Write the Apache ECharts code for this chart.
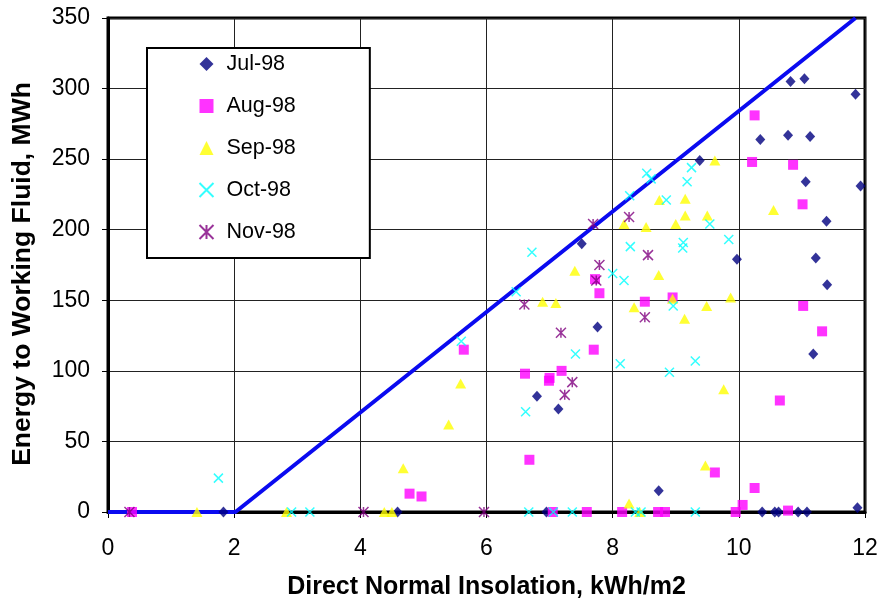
<!DOCTYPE html>
<html>
<head>
<meta charset="utf-8">
<script src="https://cdn.jsdelivr.net/npm/echarts@6/dist/echarts.min.js"></script>
<style>html,body{margin:0;padding:0;background:#fff;}#c{width:881px;height:605px;}</style>
</head>
<body>
<div id="c"></div>
<script>
var xTicks = [0, 2, 4, 6, 8, 10, 12];
var yTicks = [0, 50, 100, 150, 200, 250, 300, 350];
var seriesNames = ['Jul-98', 'Aug-98', 'Sep-98', 'Oct-98', 'Nov-98'];

var jul98 = [[1.83,0],[4.59,0],[6.80,82],[7.14,73],[7.51,190],[7.76,131],[6.95,0],[8.73,15],[9.38,249],[10.34,264],[10.78,267],[10.82,305],[11.04,307],[11.13,266],[11.85,296],[11.06,234],[11.93,231],[11.39,206],[9.97,179],[11.22,180],[11.40,161],[11.18,112],[10.37,0],[10.57,0],[10.63,0],[10.94,0],[11.08,0],[11.88,3]];
var aug98 = [[0.38,0],[4.78,13],[4.97,11],[5.64,115],[6.61,98],[6.68,37],[7.0,95],[6.99,93],[7.19,100],[7.05,0],[7.59,0],[7.70,115],[7.72,165],[7.79,155],[8.15,0],[8.51,149],[8.72,0],[8.83,0],[8.95,152],[9.62,28],[9.95,0],[10.06,5],[10.25,17],[10.21,248],[10.25,281],[10.65,79],[10.78,1],[10.86,246],[11.01,218],[11.02,146],[11.32,128]];
var sep98 = [[1.41,0],[2.83,0],[4.38,0],[4.50,0],[4.68,31],[5.40,62],[5.59,91],[6.89,149],[7.10,148],[7.40,171],[8.18,204],[8.26,6],[8.34,145],[8.43,0],[8.53,202],[8.73,168],[8.74,221],[8.95,151],[9.0,204],[9.14,137],[9.15,210],[9.15,222],[9.47,33],[9.49,146],[9.50,210],[9.62,249],[9.76,87],[9.87,152],[10.55,214]];
var oct98 = [[1.75,24],[2.91,0],[3.20,0],[5.60,121],[6.47,156],[6.62,71],[6.67,0],[6.72,184],[7.06,0],[7.36,0],[7.41,112],[8.0,169],[8.12,105],[8.18,164],[8.27,224],[8.28,188],[8.36,0],[8.45,0],[8.54,240],[8.61,236],[8.85,221],[8.90,99],[8.96,146],[9.11,187],[9.12,191],[9.18,234],[9.25,244],[9.31,107],[9.31,0],[9.54,204],[9.84,193]];
var nov98 = [[0.34,0],[4.05,0],[5.96,0],[6.60,147],[7.18,127],[7.24,83],[7.36,92],[7.69,204],[7.74,164],[7.79,175],[8.26,209],[8.51,138],[8.56,182]];
var limitLine = [[0,0],[2.02,0],[11.85,350]];

var FONT = '"Liberation Sans", Arial, sans-serif';
var chart = echarts.init(document.getElementById('c'), null, {renderer: 'canvas'});
var xPath = 'path://M0,0L10,10M10,0L0,10';
var starPath = 'path://M0,0L10,10M10,0L0,10M5,0L5,10';

chart.setOption({
  animation: false,
  backgroundColor: '#fff',
  grid: {left: 108, right: 16, top: 18, bottom: 92, show: true, borderColor: '#000', borderWidth: 3, backgroundColor: 'transparent'},
  legend: {
    data: seriesNames,
    orient: 'vertical',
    left: 147, top: 48,
    padding: [5, 74, 15, 50],
    itemGap: 20,
    itemWidth: 14, itemHeight: 14,
    backgroundColor: '#fff',
    borderColor: '#000', borderWidth: 2,
    textStyle: {fontFamily: FONT, fontSize: 21.5, color: '#000', lineHeight: 21, padding: [0,0,0,8]}
  },
  xAxis: {
    type: 'value', min: 0, max: 12, interval: 2,
    name: 'Direct Normal Insolation, kWh/m2',
    nameLocation: 'middle', nameGap: 63,
    nameTextStyle: {fontFamily: FONT, fontSize: 25, fontWeight: 'bold', color: '#000'},
    axisLine: {show: true, onZero: false, lineStyle: {color: '#000', width: 3}},
    axisTick: {show: true, length: 6, lineStyle: {color: '#000', width: 1}},
    axisLabel: {fontFamily: FONT, fontSize: 23, color: '#000', margin: 25,
      formatter: function(v){ return xTicks.indexOf(v) >= 0 ? String(v) : ''; }},
    splitLine: {show: true, lineStyle: {color: '#222', width: 1}}
  },
  yAxis: {
    type: 'value', min: 0, max: 350, interval: 50,
    name: 'Energy to Working Fluid, MWh',
    nameLocation: 'middle', nameGap: 72,
    nameTextStyle: {fontFamily: FONT, fontSize: 26.5, fontWeight: 'bold', color: '#000', padding: [0, 18, 0, 0]},
    axisLine: {show: true, onZero: false, lineStyle: {color: '#000', width: 3}},
    axisTick: {show: true, length: 6, lineStyle: {color: '#000', width: 1}},
    axisLabel: {fontFamily: FONT, fontSize: 23, color: '#000', margin: 18,
      formatter: function(v){ return yTicks.indexOf(v) >= 0 ? String(v) : ''; }},
    splitLine: {show: true, lineStyle: {color: '#222', width: 1}}
  },
  series: [
    {name: 'limit', type: 'line', data: limitLine, showSymbol: false, symbol: 'none', z: 1,
     lineStyle: {color: '#0a0af0', width: 4}, clip: true},
    {name: 'Jul-98', type: 'scatter', data: jul98, symbol: 'diamond', symbolSize: [10, 11], z: 3,
     itemStyle: {color: '#000080'}},
    {name: 'Aug-98', type: 'scatter', data: aug98, symbol: 'rect', symbolSize: 10, z: 3,
     itemStyle: {color: '#FF00FF'}},
    {name: 'Sep-98', type: 'scatter', data: sep98, symbol: 'triangle', symbolSize: [11, 10], z: 3,
     itemStyle: {color: '#FFFF00'}},
    {name: 'Oct-98', type: 'scatter', data: oct98, symbol: xPath, symbolSize: 9, z: 3,
     itemStyle: {color: 'none', borderColor: '#00FFFF', borderWidth: 1.5}},
    {name: 'Nov-98', type: 'scatter', data: nov98, symbol: starPath, symbolSize: 10, z: 3,
     itemStyle: {color: 'none', borderColor: '#800080', borderWidth: 1.5}}
  ]
});
</script>
</body>
</html>
